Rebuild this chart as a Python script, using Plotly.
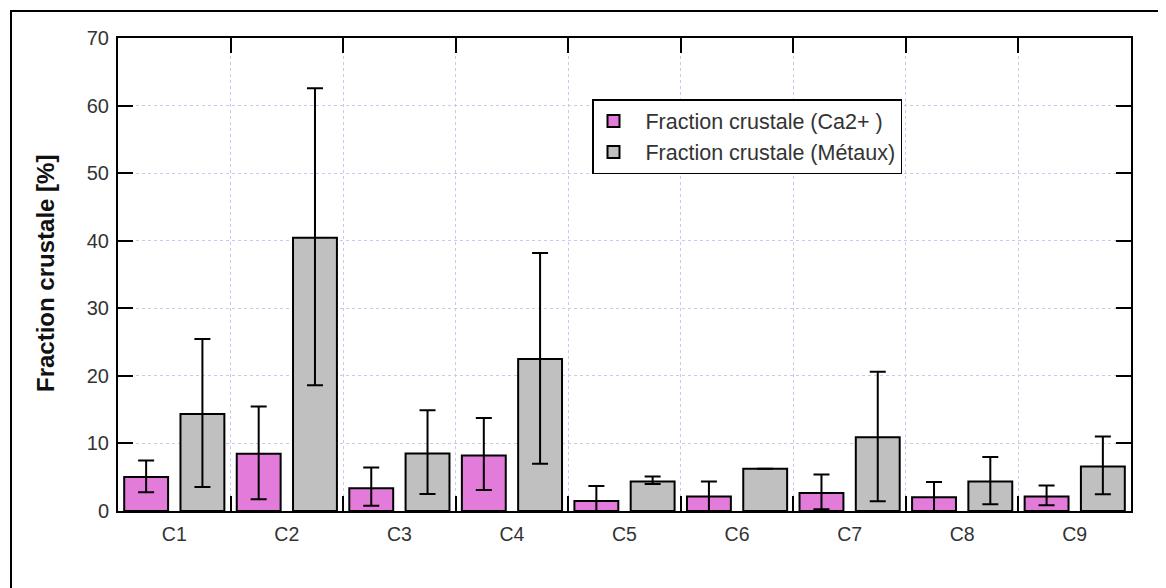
import plotly.graph_objects as go

categories = ["C1", "C2", "C3", "C4", "C5", "C6", "C7", "C8", "C9"]

ca_values = [5.05, 8.47, 3.37, 8.2, 1.48, 2.13, 2.67, 2.03, 2.13]
ca_err_plus = [2.42, 7.0, 3.06, 5.57, 2.22, 2.23, 2.73, 2.27, 1.63]
ca_err_minus = [2.27, 6.73, 2.58, 5.08, 1.73, 2.2, 2.42, 2.2, 1.28]

met_values = [14.37, 40.45, 8.5, 22.48, 4.36, 6.24, 10.9, 4.36, 6.58]
met_err_plus = [11.1, 22.1, 6.4, 15.7, 0.74, 0, 9.7, 3.64, 4.46]
met_err_minus = [10.8, 21.85, 6.0, 15.5, 0.36, 0, 9.47, 3.36, 4.1]

y_ticks = [0, 10, 20, 30, 40, 50, 60, 70]

PINK = "#E27BD9"
GRAY = "#C0C0C0"
NB = "\u00a0\u00a0"

fig = go.Figure()
fig.add_trace(go.Bar(
    x=categories, y=ca_values, name=NB + "Fraction crustale (Ca2+ )",
    marker=dict(color=PINK, line=dict(color="black", width=2)),
    error_y=dict(type="data", array=ca_err_plus, arrayminus=ca_err_minus,
                 symmetric=False, color="black", thickness=2, width=8),
))
fig.add_trace(go.Bar(
    x=categories, y=met_values, name=NB + "Fraction crustale (Métaux)",
    marker=dict(color=GRAY, line=dict(color="black", width=2)),
    error_y=dict(type="data", array=met_err_plus, arrayminus=met_err_minus,
                 symmetric=False, color="black", thickness=2, width=8),
))

# page body has an 8px margin: work in page coords, convert to figure coords
OFF = 8
W, H = 1166 - OFF, 588 - OFF
PL, PR, PT, PB = 118, 1131, 38, 511  # plot area in page pixels
L = PL - OFF
T = PT - OFF
R = W - (PR - OFF)
B = H - (PB - OFF)
pw = W - L - R
ph = H - T - B


def px(xp):
    return (xp - OFF - L) / pw


def py(yp):
    return (H - B - (yp - OFF)) / ph


fig.update_layout(
    width=W, height=H,
    margin=dict(l=L, r=R, t=T, b=B),
    paper_bgcolor="white", plot_bgcolor="white",
    barmode="group", bargap=0.0, bargroupgap=0.22,
    font=dict(family="Arial, Liberation Sans, sans-serif", size=19, color="#333333"),
    showlegend=True,
    legend=dict(
        x=px(592), y=py(99), xanchor="left", yanchor="top",
        bordercolor="black", borderwidth=1.5, bgcolor="white",
        font=dict(size=21.5, color="#333333"),
        tracegroupgap=0, itemwidth=30,
    ),
)

fig.update_xaxes(
    type="category", tickson="boundaries",
    showline=True, linecolor="black", linewidth=2, mirror="allticks",
    ticks="inside", ticklen=15, tickwidth=2, tickcolor="black",
    showgrid=True, gridcolor="#C8C8F0", griddash="dot", gridwidth=1,
    range=[-0.5, 8.5], tickfont=dict(size=19.5), ticklabelstandoff=5,
)
fig.update_yaxes(
    range=[0, 70], tickvals=y_ticks,
    showline=True, linecolor="black", linewidth=2, mirror="allticks",
    ticks="inside", ticklen=15, tickwidth=2, tickcolor="black",
    showgrid=True, gridcolor="#C8C8F0", griddash="dot", gridwidth=1,
    zeroline=False, tickfont=dict(size=20), ticklabelstandoff=3,
)

# y-axis title as annotation
fig.add_annotation(
    text="<b>Fraction crustale [%]</b>", textangle=-90,
    xref="paper", yref="paper",
    x=px(45), y=py(274), xanchor="center", yanchor="middle",
    showarrow=False, font=dict(size=24, color="#111111"),
)

# outer frame (top and left visible)
fig.add_shape(
    type="rect", xref="paper", yref="paper",
    x0=px(11), x1=px(1250),
    y0=py(650), y1=py(11),
    line=dict(color="black", width=2), fillcolor="rgba(0,0,0,0)", layer="above",
)

fig.write_html("out.html")
